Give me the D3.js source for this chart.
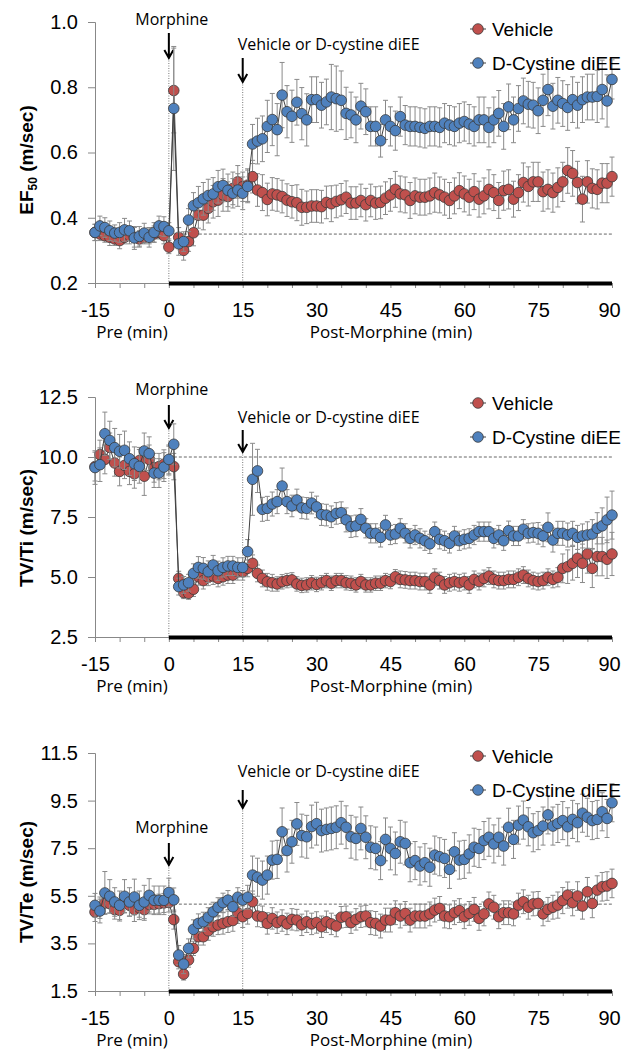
<!DOCTYPE html>
<html>
<head>
<meta charset="utf-8">
<style>
  body { margin: 0; background: #fff; }
  svg text { font-family: "Liberation Sans", Arial, sans-serif; fill: #000; }
  .note { font-family: "Open Sans", sans-serif; }
</style>
</head>
<body>
<svg width="622" height="1050"></svg>

<script src="https://d3js.org/d3.v7.min.js"></script>
<script>
// time bins in minutes, one reading per minute
const minutes = d3.range(-15, 91);
const seriesNames = ["Vehicle", "D-Cystine diEE"];

// ---- EF50 (m/sec) ----
const ef50Vehicle = [
  0.355,0.35,0.345,0.34,0.335,0.33,0.34,0.345,0.34,0.335,0.34,0.345,0.35,0.355,0.345,0.31,
  0.79,0.34,0.30,0.327,0.354,0.408,0.408,0.429,0.449,0.454,
  0.47,0.465,0.49,0.51,0.495,0.50,0.526,0.485,0.477,0.456,
  0.473,0.47,0.465,0.454,0.449,0.446,0.432,0.432,0.436,0.436,
  0.434,0.447,0.443,0.45,0.455,0.463,0.445,0.445,0.453,0.44,
  0.453,0.445,0.447,0.46,0.47,0.487,0.473,0.47,0.453,0.467,
  0.463,0.463,0.467,0.477,0.47,0.463,0.453,0.467,0.483,0.473,
  0.463,0.48,0.457,0.467,0.487,0.477,0.453,0.483,0.487,0.457,
  0.477,0.508,0.496,0.51,0.51,0.48,0.487,0.477,0.493,0.51,
  0.545,0.536,0.508,0.457,0.51,0.49,0.487,0.506,0.506,0.526
];
const ef50Dcys = [
  0.355,0.375,0.37,0.36,0.353,0.355,0.363,0.36,0.338,0.343,0.353,0.34,0.355,0.375,0.373,0.36,
  0.735,0.32,0.327,0.393,0.437,0.446,0.458,0.468,0.473,0.495,
  0.499,0.484,0.475,0.485,0.475,0.496,0.626,0.635,0.642,0.68,
  0.701,0.67,0.776,0.725,0.711,0.754,0.719,0.70,0.762,0.762,
  0.745,0.755,0.77,0.765,0.76,0.72,0.715,0.70,0.742,0.725,
  0.68,0.68,0.636,0.70,0.68,0.667,0.71,0.684,0.68,0.68,
  0.677,0.674,0.68,0.68,0.677,0.69,0.684,0.68,0.69,0.695,
  0.687,0.68,0.70,0.70,0.677,0.70,0.72,0.68,0.74,0.70,
  0.735,0.758,0.748,0.745,0.728,0.76,0.793,0.742,0.76,0.75,
  0.738,0.762,0.745,0.762,0.77,0.77,0.772,0.793,0.758,0.824
];
const ef50VehicleSem = [
  .025,.02,.02,.025,.02,.025,.02,.025,.03,.025,.02,.025,.025,.02,.025,.02,
  .13,.03,.03,.03,.04,.04,.045,.045,.05,.05,
  .05,.045,.05,.05,.045,.05,.05,.05,.055,.05,
  .05,.05,.05,.05,.05,.055,.055,.05,.05,.05,
  .05,.05,.055,.05,.05,.05,.05,.05,.05,.05,
  .05,.05,.05,.05,.05,.055,.055,.055,.055,.055,
  .055,.055,.055,.06,.055,.055,.055,.055,.055,.055,
  .055,.055,.055,.055,.06,.055,.055,.06,.06,.055,
  .055,.06,.06,.06,.06,.06,.06,.06,.06,.06,
  .07,.07,.065,.07,.065,.06,.06,.06,.06,.06
];
const ef50DcysSem = [
  .025,.03,.03,.03,.025,.03,.035,.03,.035,.03,.03,.03,.03,.03,.03,.025,
  .19,.035,.03,.035,.04,.05,.05,.05,.05,.05,
  .05,.05,.045,.05,.05,.05,.06,.07,.07,.08,
  .08,.08,.10,.08,.08,.07,.08,.08,.07,.07,
  .07,.07,.10,.10,.09,.08,.07,.07,.07,.07,
  .06,.06,.05,.06,.06,.06,.06,.06,.06,.06,
  .06,.06,.06,.06,.06,.06,.06,.06,.06,.06,
  .06,.06,.07,.07,.06,.07,.07,.07,.07,.07,
  .07,.07,.07,.07,.07,.08,.08,.07,.07,.07,
  .07,.07,.07,.07,.07,.07,.08,.09,.08,.06
];

// ---- TV/Ti (m/sec) ----
const tvtiVehicle = [
  9.6,10.1,9.9,10.4,9.75,9.4,9.65,9.4,9.3,9.85,9.2,9.9,9.55,9.6,9.7,9.85,
  9.6,4.94,4.35,4.32,4.49,5.01,4.85,4.99,5.04,4.94,
  5.01,5.08,5.08,5.22,5.22,5.36,5.57,5.15,4.94,4.8,
  4.76,4.71,4.8,4.85,4.88,4.71,4.65,4.67,4.76,4.69,
  4.76,4.85,4.74,4.85,4.85,4.76,4.74,4.67,4.81,4.67,
  4.67,4.74,4.74,4.85,4.81,5.01,4.9,4.88,4.85,4.85,
  4.81,4.81,4.67,4.99,4.85,4.67,4.76,4.81,4.76,4.81,
  4.67,4.9,4.81,4.94,5.04,4.9,4.85,4.85,4.9,4.9,
  4.99,5.08,4.94,4.85,4.81,4.85,4.99,4.9,4.99,5.36,
  5.43,5.57,5.78,5.57,5.96,5.36,5.85,5.85,5.74,5.96
];
const tvtiDcys = [
  9.56,9.68,10.97,10.69,10.39,10.24,10.28,9.93,9.72,9.61,10.25,10.14,9.33,9.33,9.58,9.9,
  10.53,4.6,4.67,4.76,5.15,5.4,5.36,5.22,5.5,5.26,
  5.4,5.46,5.46,5.4,5.4,6.06,9.07,9.42,7.82,7.86,
  8.04,8.14,8.79,8.14,7.96,8.21,7.88,7.86,8.08,7.92,
  7.6,7.58,7.51,7.65,7.68,7.38,7.1,7.13,7.4,7.03,
  6.82,6.82,6.65,7.17,6.75,6.79,7.03,6.82,6.61,6.75,
  6.61,6.51,6.38,6.89,6.57,6.51,6.4,6.71,6.51,6.57,
  6.61,6.75,6.89,6.89,6.89,6.61,6.75,6.51,6.93,6.71,
  6.71,6.99,6.82,6.85,6.82,6.71,7.07,6.54,6.82,6.82,
  6.75,6.82,6.65,6.71,6.75,6.79,7.03,7.13,7.38,7.58
];
const tvtiVehicleSem = [
  .6,.6,.6,.6,.55,.6,.55,.55,.6,.55,.8,.6,.6,.55,.6,.6,
  .55,.3,.25,.25,.3,.35,.35,.35,.35,.35,
  .35,.35,.35,.35,.35,.35,.35,.35,.35,.35,
  .35,.3,.3,.3,.3,.3,.3,.3,.3,.3,
  .3,.3,.3,.3,.3,.3,.3,.3,.3,.3,
  .3,.3,.3,.3,.3,.3,.35,.35,.35,.35,
  .35,.35,.35,.35,.35,.35,.35,.35,.35,.35,
  .35,.35,.35,.35,.35,.35,.35,.35,.35,.35,
  .35,.35,.35,.35,.35,.35,.35,.35,.4,.6,
  .7,.7,.8,.8,.8,.8,.8,.8,.8,.9
];
const tvtiDcysSem = [
  .7,.7,.9,.8,.8,.7,.8,.7,.7,.7,.75,.7,.6,.6,.6,.6,
  .85,.35,.35,.35,.4,.45,.45,.45,.4,.4,
  .4,.4,.4,.4,.4,.5,1.5,.9,.5,.5,
  .5,.5,.75,.5,.45,.45,.45,.45,.45,.45,
  .45,.45,.45,.45,.45,.5,.45,.45,.45,.4,
  .4,.4,.4,.4,.4,.4,.4,.4,.4,.4,
  .4,.4,.4,.4,.4,.4,.4,.4,.4,.4,
  .4,.4,.4,.4,.4,.4,.4,.4,.4,.4,
  .4,.4,.4,.4,.45,.45,.6,.5,.5,.5,
  .5,.5,.5,.5,.55,.6,.65,.75,.95,1.0
];

// ---- TV/Te (m/sec) ----
const tvteVehicle = [
  4.82,5.0,5.2,5.17,4.92,4.89,5.2,5.1,4.92,5.0,4.92,5.14,5.14,5.17,5.2,5.22,
  4.5,2.73,2.21,2.8,3.29,3.78,3.78,4.03,4.2,4.27,
  4.34,4.41,4.46,4.79,4.62,4.76,5.25,4.65,4.62,4.34,
  4.55,4.37,4.46,4.32,4.51,4.48,4.28,4.41,4.32,4.38,
  4.2,4.41,4.32,4.23,4.6,4.62,4.37,4.51,4.62,4.65,
  4.37,4.34,4.23,4.48,4.48,4.79,4.65,4.76,4.48,4.65,
  4.65,4.65,4.74,4.9,4.97,4.65,4.62,4.79,4.88,4.62,
  4.76,4.93,4.55,4.74,5.16,5.02,4.62,4.79,4.79,4.74,
  5.11,5.25,5.02,5.16,5.18,4.74,4.93,5.02,5.11,5.3,
  5.53,5.21,5.49,5.07,5.67,5.18,5.74,5.88,5.91,6.02
];
const tvteDcys = [
  5.1,4.86,5.62,5.48,5.24,5.1,5.48,5.24,5.45,5.1,5.24,5.52,5.31,5.31,5.31,5.64,
  5.33,3.01,2.63,3.29,4.09,4.34,4.41,4.6,4.83,5.02,
  5.21,5.32,5.04,5.44,5.32,5.44,6.37,6.28,6.16,6.37,
  7.0,7.03,8.19,7.4,7.77,8.52,8.03,7.98,8.41,8.53,
  8.24,8.29,8.33,8.38,8.57,8.38,7.98,7.91,8.33,7.96,
  7.54,7.49,6.98,7.87,7.49,7.28,7.77,7.7,6.89,6.98,
  6.75,6.89,6.7,7.21,7.14,7.07,6.61,7.35,7.0,7.03,
  7.26,7.54,7.49,7.82,7.96,7.68,7.96,7.59,8.38,7.87,
  8.47,8.68,8.4,8.15,8.24,8.43,8.9,8.43,8.54,8.66,
  8.4,8.71,8.57,8.97,8.8,8.66,8.71,9.03,8.75,9.41
];
const tvteVehicleSem = [
  .4,.45,.45,.4,.4,.45,.4,.45,.5,.4,.45,.4,.4,.4,.4,.4,
  .4,.3,.25,.3,.3,.35,.35,.4,.4,.4,
  .45,.45,.45,.45,.45,.45,.45,.45,.45,.45,
  .45,.45,.45,.45,.45,.45,.45,.45,.45,.45,
  .45,.45,.45,.45,.45,.45,.45,.45,.45,.45,
  .5,.5,.5,.5,.5,.5,.5,.5,.5,.5,
  .5,.5,.5,.5,.5,.5,.5,.5,.5,.5,
  .5,.5,.5,.5,.5,.5,.5,.5,.5,.5,
  .5,.5,.5,.5,.5,.5,.5,.5,.55,.55,
  .55,.55,.6,.55,.6,.6,.6,.6,.6,.6
];
const tvteDcysSem = [
  .5,.5,.9,.7,.6,.6,.7,.6,.75,.6,.7,.7,.6,.6,.6,.6,
  .5,.4,.4,.4,.4,.4,.4,.4,.4,.4,
  .4,.4,.4,.4,.4,.5,.8,.8,.8,.8,
  .8,.8,1.0,.9,.9,.9,.9,.9,.9,.9,
  .9,.9,.9,.9,.9,.9,.9,.9,.9,.9,
  .9,.9,.8,.9,.9,.9,.9,.9,.8,.8,
  .8,.8,.8,.8,.8,.8,.8,.8,.8,.8,
  .8,.8,.8,.8,.8,.8,.8,.8,.8,.8,
  .8,.8,.8,.8,.8,.8,.8,.8,.8,.8,
  .8,.8,.8,.8,.8,.8,.8,.8,.8,.8
];

// y tick labels for each panel
const ef50Ticks = [0.2, 0.4, 0.6, 0.8, 1.0];
const tvtiTicks = [2.5, 5.0, 7.5, 10.0, 12.5];
const tvteTicks = [1.5, 3.5, 5.5, 7.5, 9.5, 11.5];

const colors = ["#C0504D", "#4F81BD"];

const svg = d3.select("svg");

// shared x scale, -15..90 min
const x = d3.scaleLinear().domain([-15, 90]).range([95, 612]);

const panels = [
  { title: "EF", sub: "50", unit: " (m/sec)", ticks: ef50Ticks, top: 22, bottom: 283,
    baseline: 0.35, labelY: 160,
    series: [[ef50Vehicle, ef50VehicleSem], [ef50Dcys, ef50DcysSem]],
    morph: { text: 25, a0: 33, a1: 58 }, veh: { text: 50, a0: 58, a1: 82 }, legend: [29, 63] },
  { title: "TV/Ti", unit: " (m/sec)", ticks: tvtiTicks, top: 397, bottom: 637,
    baseline: 10.0, labelY: 528,
    series: [[tvtiVehicle, tvtiVehicleSem], [tvtiDcys, tvtiDcysSem]],
    morph: { text: 395, a0: 405, a1: 428 }, veh: { text: 423, a0: 430, a1: 452 }, legend: [403, 437] },
  { title: "TV/Te", unit: " (m/sec)", ticks: tvteTicks, top: 753, bottom: 991,
    baseline: 5.15, labelY: 882,
    series: [[tvteVehicle, tvteVehicleSem], [tvteDcys, tvteDcysSem]],
    morph: { text: 833, a0: 843, a1: 865 }, veh: { text: 777, a0: 790, a1: 808 }, legend: [756, 790] }
];

function arrow(g, xp, y0, y1) {
  g.append("path")
    .attr("d", `M${xp},${y0}V${y1 - 1}M${xp - 4.5},${y1 - 8}L${xp},${y1}L${xp + 4.5},${y1 - 8}`)
    .attr("fill", "none").attr("stroke", "#000").attr("stroke-width", 2);
}

panels.forEach(p => {
  const g = svg.append("g");
  const y = d3.scaleLinear()
    .domain([p.ticks[0], p.ticks[p.ticks.length - 1]])
    .range([p.bottom, p.top]);

  // dotted lines at morphine and treatment time
  g.append("line").attr("x1", x(0)).attr("x2", x(0))
    .attr("y1", p.morph.a1).attr("y2", p.bottom)
    .attr("stroke", "#777").attr("stroke-dasharray", "1,1.5");
  g.append("line").attr("x1", x(15)).attr("x2", x(15))
    .attr("y1", p.veh.a1).attr("y2", p.bottom)
    .attr("stroke", "#777").attr("stroke-dasharray", "1,1.5");

  // dashed baseline
  g.append("line").attr("x1", x(0)).attr("x2", x(90))
    .attr("y1", y(p.baseline)).attr("y2", y(p.baseline))
    .attr("stroke", "#666").attr("stroke-dasharray", "3,2");

  // y axis
  const ya = g.append("g").attr("transform", `translate(${x(-15)},0)`)
    .call(d3.axisLeft(y).tickValues(p.ticks).tickFormat(d3.format(".1f"))
      .tickSize(7).tickPadding(10));
  ya.select(".domain").attr("stroke", "#888");
  ya.selectAll(".tick line").attr("stroke", "#888");
  ya.selectAll("text").attr("font-size", 20).attr("font-family", null);

  // x axis
  const xa = g.append("g").attr("transform", `translate(0,${p.bottom})`)
    .call(d3.axisBottom(x).tickValues(d3.range(-15, 91, 5))
      .tickFormat(d => d % 15 === 0 ? d : "").tickSizeInner(5).tickSizeOuter(0).tickPadding(15));
  xa.select(".domain").attr("stroke", "#888");
  xa.selectAll(".tick line").attr("stroke", "#888");
  xa.selectAll("text").attr("font-size", 20).attr("font-family", null)
    .attr("dx", d => d === 90 ? -3 : 0);  // keep the last label inside the page

  // post-morphine bar
  g.append("line").attr("x1", x(0)).attr("x2", x(90))
    .attr("y1", p.bottom + 0.5).attr("y2", p.bottom + 0.5)
    .attr("stroke", "#000").attr("stroke-width", 4);

  g.append("text").attr("class", "note").attr("x", 132).attr("y", p.bottom + 55)
    .attr("text-anchor", "middle").attr("font-size", 17).text("Pre (min)");
  g.append("text").attr("class", "note").attr("x", 391).attr("y", p.bottom + 55)
    .attr("text-anchor", "middle").attr("font-size", 17).text("Post-Morphine (min)");

  // y title
  const t = g.append("text")
    .attr("transform", `translate(33,${p.labelY}) rotate(-90)`)
    .attr("text-anchor", "middle").attr("font-size", 19).attr("font-weight", "bold");
  t.append("tspan").text(p.title);
  if (p.sub) {
    t.append("tspan").attr("font-size", 12).attr("dy", 4).text(p.sub);
    t.append("tspan").attr("dy", -4).text(p.unit);
  } else {
    t.append("tspan").text(p.unit);
  }

  // annotations
  g.append("text").attr("class", "note").attr("x", x(0) + 3).attr("y", p.morph.text)
    .attr("text-anchor", "middle").attr("font-size", 16).text("Morphine");
  arrow(g, x(0), p.morph.a0, p.morph.a1);
  g.append("text").attr("class", "note").attr("x", x(15) - 5).attr("y", p.veh.text)
    .attr("font-size", 16).text("Vehicle or D-cystine diEE");
  arrow(g, x(15), p.veh.a0, p.veh.a1);

  // series
  p.series.forEach(([vals, sem], si) => {
    const pts = minutes.map((m, i) => ({ m, v: vals[i], e: sem[i] }));
    const s = g.append("g");

    const eb = s.selectAll(".eb").data(pts).join("g").attr("stroke", "#8a8a8a").attr("stroke-width", 1);
    eb.append("line").attr("x1", d => x(d.m)).attr("x2", d => x(d.m))
      .attr("y1", d => y(d.v - d.e)).attr("y2", d => y(d.v + d.e));
    eb.append("line").attr("x1", d => x(d.m) - 2.5).attr("x2", d => x(d.m) + 2.5)
      .attr("y1", d => y(d.v + d.e)).attr("y2", d => y(d.v + d.e));
    eb.append("line").attr("x1", d => x(d.m) - 2.5).attr("x2", d => x(d.m) + 2.5)
      .attr("y1", d => y(d.v - d.e)).attr("y2", d => y(d.v - d.e));

    s.append("path").datum(pts)
      .attr("d", d3.line().x(d => x(d.m)).y(d => y(d.v)))
      .attr("fill", "none").attr("stroke", "#404040").attr("stroke-width", 1);

    s.selectAll("circle").data(pts).join("circle")
      .attr("cx", d => x(d.m)).attr("cy", d => y(d.v)).attr("r", 5.3)
      .attr("fill", colors[si]).attr("stroke", "#3a3a3a").attr("stroke-width", 0.8);
  });

  // legend
  seriesNames.forEach((name, i) => {
    const ly = p.legend[i];
    g.append("line").attr("x1", 470).attr("x2", 486).attr("y1", ly).attr("y2", ly)
      .attr("stroke", "#404040");
    g.append("circle").attr("cx", 478).attr("cy", ly).attr("r", 5.3)
      .attr("fill", colors[i]).attr("stroke", "#3a3a3a").attr("stroke-width", 0.8);
    g.append("text").attr("x", 492).attr("y", ly + 7).attr("font-size", 19).text(name);
  });
});
</script>
</body>
</html>
